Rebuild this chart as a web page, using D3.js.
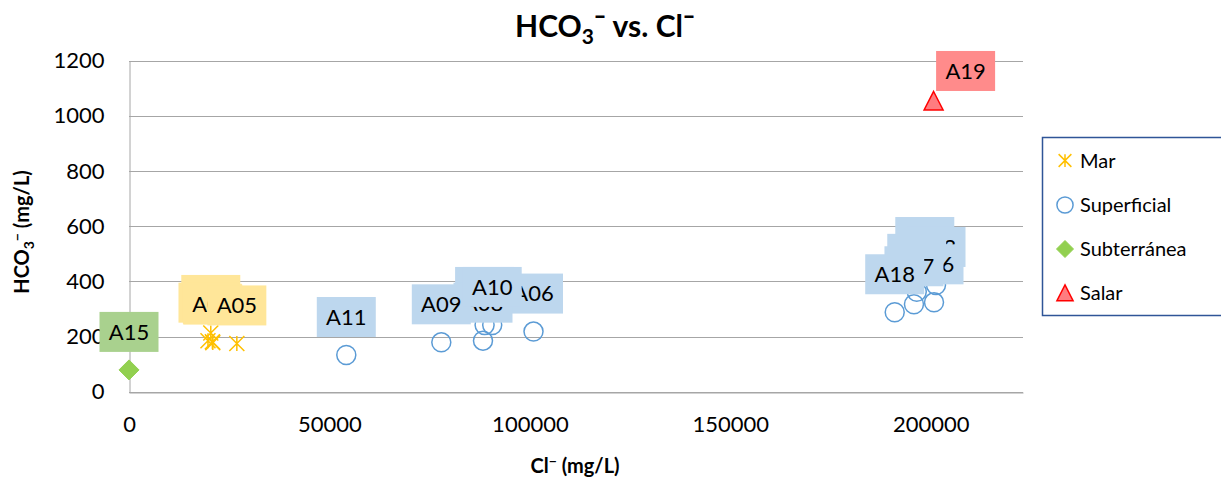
<!DOCTYPE html>
<html>
<head>
<meta charset="utf-8">
<script src="https://cdn.jsdelivr.net/npm/d3@7"></script>
<style>
  body { margin: 0; background: #fff; }
  svg { font-family: Lato, "Open Sans", sans-serif; }
</style>
</head>
<body>
<svg width="1221" height="481"></svg>
<script>
// values: Cl- (x) and HCO3- (y), mg/L
const marIds = ["A01", "A02", "A03", "A04", "A05"]
const marCl = [20400, 19700, 20900, 20800, 26900]
const marHco3 = [213, 185, 178, 181, 175]

const supIds = ["A06", "A07", "A08", "A09", "A10", "A11", "A12", "A13", "A14", "A16", "A17", "A18"]
const supCl = [100900, 88700, 88300, 77900, 90600, 54200, 198500, 201300, 196500, 200800, 195800, 191000]
const supHco3 = [218, 242, 185, 179, 242, 133, 423, 387, 362, 324, 317, 288]

const subIds = ["A15"]
const subCl = [0]
const subHco3 = [79]

const salIds = ["A19"]
const salCl = [200700]
const salHco3 = [1054]

const xTicks = [0, 50000, 100000, 150000, 200000]
const yTicks = [0, 200, 400, 600, 800, 1000, 1200]

const seriesNames = ["Mar", "Superficial", "Subterránea", "Salar"]

const svg = d3.select("svg")

const x = d3.scaleLinear().domain([0, 223000]).range([129, 1023])
const y = d3.scaleLinear().domain([0, 1200]).range([391.7, 60.7])

const series = [
    {name: seriesNames[0], ids: marIds, xs: marCl, ys: marHco3, marker: "star", label: "#ffe699"},
    {name: seriesNames[1], ids: supIds, xs: supCl, ys: supHco3, marker: "circle", label: "#bdd7ee"},
    {name: seriesNames[2], ids: subIds, xs: subCl, ys: subHco3, marker: "diamond", label: "#a9d18e"},
    {name: seriesNames[3], ids: salIds, xs: salCl, ys: salHco3, marker: "triangle", label: "#ff8b8b"},
]
series.forEach(s => {
    s.points = s.ids.map((id, i) => ({id: id, cl: s.xs[i], hco3: s.ys[i]}))
})

// label was dragged off its default place in the original
const labelNudge = {A19: [32, 8]}

// gridlines
svg.append("g")
    .selectAll("line")
    .data(yTicks)
    .join("line")
    .attr("x1", x(0)).attr("x2", 1023)
    .attr("y1", d => Math.round(y(d)) + 0.5).attr("y2", d => Math.round(y(d)) + 0.5)
    .attr("stroke", "#a6a6a6")
    .attr("stroke-width", 1)

// axes
const yAxis = svg.append("g")
    .attr("transform", `translate(${x(0) + 0.5},0)`)
    .call(d3.axisLeft(y).tickValues(yTicks).tickSize(0).tickPadding(25).tickFormat(d3.format("d")))
yAxis.select(".domain").attr("stroke", "#a6a6a6")
yAxis.selectAll("text").attr("font-size", 22).attr("fill", "#000").attr("font-family", "Lato")

const xAxis = svg.append("g")
    .attr("transform", `translate(0,${Math.round(y(0)) + 0.5})`)
    .call(d3.axisBottom(x).tickValues(xTicks).tickSize(0).tickPadding(24).tickFormat(d3.format("d")))
xAxis.select(".domain").attr("stroke", "#a6a6a6")
xAxis.selectAll("text").attr("font-size", 22).attr("fill", "#000").attr("font-family", "Lato")

// markers
function markerPath(type, s) {
    const p = d3.path()
    if (type === "star") {
        p.moveTo(0, -s); p.lineTo(0, s)
        p.moveTo(-s, -s); p.lineTo(s, s)
        p.moveTo(-s, s); p.lineTo(s, -s)
    } else if (type === "diamond") {
        p.moveTo(0, -s); p.lineTo(s, 0); p.lineTo(0, s); p.lineTo(-s, 0); p.closePath()
    } else if (type === "triangle") {
        p.moveTo(0, -s); p.lineTo(s, s * 0.95); p.lineTo(-s, s * 0.95); p.closePath()
    }
    return p.toString()
}

function drawMarker(g, type, scale) {
    if (type === "circle") {
        g.append("circle").attr("r", 9.5 * scale)
            .attr("fill", "none").attr("stroke", "#5b9bd5").attr("stroke-width", 1.5)
    } else if (type === "star") {
        g.append("path").attr("d", markerPath("star", 7.5 * scale))
            .attr("fill", "none").attr("stroke", "#ffc000").attr("stroke-width", 1.5)
    } else if (type === "diamond") {
        g.append("path").attr("d", markerPath("diamond", 10 * scale))
            .attr("fill", "#92d050").attr("stroke", "#92d050")
    } else {
        g.append("path").attr("d", markerPath("triangle", 9.5 * scale))
            .attr("fill", "#ff7c80").attr("stroke", "#ff0000").attr("stroke-width", 1.5)
    }
}

const markers = svg.append("g")
series.forEach(s => {
    s.points.forEach(d => {
        const g = markers.append("g").attr("transform", `translate(${x(d.cl)},${y(d.hco3)})`)
        drawMarker(g, s.marker, 1)
    })
})

// data labels
const labels = svg.append("g")
series.forEach(s => {
    s.points.forEach(d => {
        const n = labelNudge[d.id] || [0, 0]
        const cx = x(d.cl) + n[0], cy = y(d.hco3) - 38 + n[1]
        labels.append("rect")
            .attr("x", cx - 29.5).attr("y", cy - 20)
            .attr("width", 59).attr("height", 40)
            .attr("fill", s.label)
        labels.append("text")
            .attr("x", cx).attr("y", cy)
            .attr("dy", "0.36em")
            .attr("text-anchor", "middle")
            .attr("font-size", 22)
            .text(d.id)
    })
})

// title
const title = svg.append("text")
    .attr("x", 605).attr("y", 37)
    .attr("text-anchor", "middle")
    .attr("font-size", 30).attr("font-weight", "bold")
title.append("tspan").text("HCO")
title.append("tspan").attr("font-size", 21).attr("dy", 7).text("3")
title.append("tspan").attr("dy", -7).text("¯ vs. Cl¯")

// axis titles
const xt = svg.append("text")
    .attr("x", 575).attr("y", 473)
    .attr("text-anchor", "middle")
    .attr("font-size", 20).attr("font-weight", "bold")
xt.append("tspan").text("Cl")
xt.append("tspan").attr("font-size", 14).attr("dy", -7).text("−")
xt.append("tspan").attr("dy", 7).text(" (mg/L)")

const yt = svg.append("text")
    .attr("transform", "translate(29,232) rotate(-90)")
    .attr("text-anchor", "middle")
    .attr("font-size", 20).attr("font-weight", "bold")
yt.append("tspan").text("HCO")
yt.append("tspan").attr("font-size", 14).attr("dy", 5).text("3")
yt.append("tspan").attr("font-size", 14).attr("dy", -12).text("−")
yt.append("tspan").attr("dy", 7).text(" (mg/L)")

// legend
const legend = svg.append("g")
legend.append("rect")
    .attr("x", 1042.5).attr("y", 137.5)
    .attr("width", 200).attr("height", 178)
    .attr("fill", "#fff").attr("stroke", "#2f5597").attr("stroke-width", 1.5)

const legendRows = legend.selectAll("g.row")
    .data(series)
    .join("g")
    .attr("class", "row")
    .attr("transform", (d, i) => `translate(1065,${[160.5, 205, 249, 293][i]})`)
legendRows.each(function (d) {
    drawMarker(d3.select(this), d.marker, 0.85)
})
legendRows.append("text")
    .attr("x", 15).attr("dy", "0.36em")
    .attr("font-size", 20)
    .text(d => d.name)
</script>
</body>
</html>
